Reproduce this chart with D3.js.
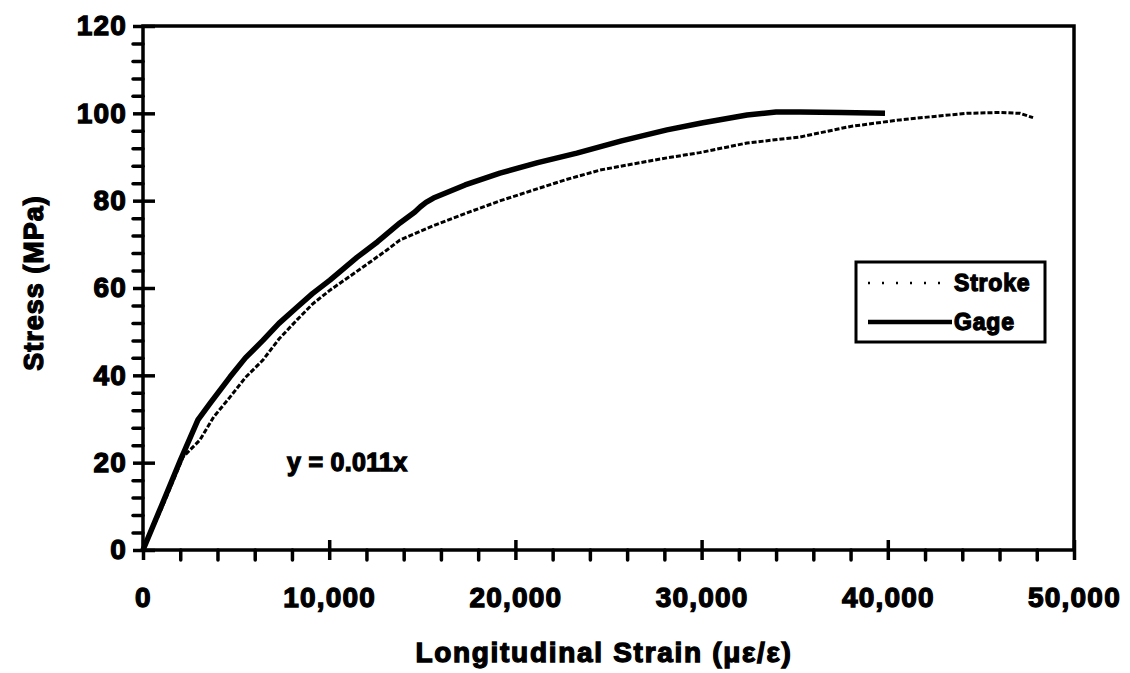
<!DOCTYPE html>
<html lang="en">
<head>
    <meta charset="UTF-8">
    <script src="https://d3js.org/d3.v7.min.js"></script>
    <title>Stress vs strain</title>
    <style>
        body { margin: 0; background: #fff; }
        text { font-family: "Liberation Sans", Arial, sans-serif; font-weight: bold; fill: #000; stroke: #000; stroke-width: 1.3px; }
    </style>
</head>
<body>
    <div id="app"></div>
    <script>
        const svg_width = 1130;
        const svg_height = 673;

        // (strain in µε, stress in MPa)
        var gageStrain = [0, 1000, 2000, 2950, 3600, 4670, 5500, 6440, 7300, 8270, 9100, 10040, 11490, 12600, 13800, 14600, 14900, 15200, 15600, 17300, 19170, 21200, 23300, 25700, 28140, 30000, 32440, 34000, 35300, 37500, 39850];
        var gageStress = [0, 10.2, 20.5, 29.8, 33.6, 39.6, 44, 48, 51.9, 55.6, 58.7, 61.8, 67, 70.6, 74.9, 77.4, 78.6, 79.6, 80.6, 83.6, 86.3, 88.7, 90.9, 93.7, 96.2, 97.8, 99.6, 100.3, 100.3, 100.2, 100];

        var strokeStrain = [0, 1000, 2150, 3060, 3800, 4670, 5500, 6440, 7300, 8270, 9100, 10040, 11820, 13100, 13800, 15600, 17400, 19200, 20950, 22700, 24540, 26300, 28140, 29900, 32440, 35300, 38000, 40650, 42500, 44250, 46000, 47100, 47800];
        var strokeStress = [0, 9.5, 21.3, 25.2, 30.5, 35, 39.5, 43.5, 48.3, 52.7, 56.3, 59.5, 64.8, 68.7, 71, 74.3, 77.2, 80, 82.4, 84.8, 87, 88.4, 89.8, 91, 93.2, 94.6, 97, 98.5, 99.3, 100, 100.2, 100, 99];

        var xMajor = [0, 10000, 20000, 30000, 40000, 50000];
        var yMajor = [0, 20, 40, 60, 80, 100, 120];
        var seriesNames = ['Stroke', 'Gage'];

        const plot_left = 143, plot_right = 1074, plot_top = 26, plot_bottom = 550;

        var svg = d3.select('#app')
            .append('svg')
            .attr('width', svg_width)
            .attr('height', svg_height)

        var x_scale = d3.scaleLinear().domain([0, 50000]).range([plot_left, plot_right])
        var y_scale = d3.scaleLinear().domain([0, 120]).range([plot_bottom, plot_top])

        // frame
        svg.append('rect')
            .attr('x', plot_left).attr('y', plot_top)
            .attr('width', plot_right - plot_left).attr('height', plot_bottom - plot_top)
            .attr('fill', 'none').attr('stroke', '#000').attr('stroke-width', 3.5)

        var xMinor = d3.range(0, 50001, 2000).filter(function (d) { return d % 10000 != 0 })
        var yMinor = d3.range(0, 121, 4).filter(function (d) { return d % 20 != 0 })

        // minor ticks
        svg.append('g')
            .attr('transform', 'translate(0,' + plot_bottom + ')')
            .call(d3.axisBottom(x_scale).tickValues(xMinor).tickFormat('').tickSize(10))
            .call(function (g) { g.select('.domain').remove() })
            .selectAll('line').attr('stroke-width', 3.5).attr('stroke-linecap', 'round')
        svg.append('g')
            .attr('transform', 'translate(' + plot_left + ',0)')
            .call(d3.axisLeft(y_scale).tickValues(yMinor).tickFormat('').tickSize(10))
            .call(function (g) { g.select('.domain').remove() })
            .selectAll('line').attr('stroke-width', 3.5).attr('stroke-linecap', 'round')

        // major ticks + labels
        var xAxis = svg.append('g')
            .attr('transform', 'translate(0,' + plot_bottom + ')')
            .call(d3.axisBottom(x_scale).tickValues(xMajor).tickFormat(d3.format(',')).tickSize(10).tickPadding(27))
        xAxis.select('.domain').remove()
        xAxis.selectAll('line').attr('y1', -10).attr('stroke-width', 3.5)
        xAxis.selectAll('text')
            .attr('font-size', 28).attr('font-family', null)
            .style('letter-spacing', '1.2px')

        var yAxis = svg.append('g')
            .attr('transform', 'translate(' + plot_left + ',0)')
            .call(d3.axisLeft(y_scale).tickValues(yMajor).tickSize(10).tickPadding(6))
        yAxis.select('.domain').remove()
        yAxis.selectAll('line').attr('x1', 12).attr('stroke-width', 3.5)
        yAxis.selectAll('text')
            .attr('font-size', 28).attr('font-family', null)
            .style('letter-spacing', '1.2px')

        // axis titles
        svg.append('text')
            .text('Longitudinal Strain (\u03bc\u03b5/\u03b5)')
            .attr('x', 604).attr('y', 662)
            .attr('font-size', 28)
            .style('letter-spacing', '1.7px')
            .style('text-anchor', 'middle')
        svg.append('text')
            .text('Stress (MPa)')
            .attr('transform', 'translate(43,283) rotate(-90)')
            .attr('font-size', 27)
            .style('letter-spacing', '1px')
            .style('text-anchor', 'middle')

        var line = d3.line()
            .x(function (d) { return x_scale(d[0]) })
            .y(function (d) { return y_scale(d[1]) })

        var strokeData = d3.zip(strokeStrain, strokeStress)
        var gageData = d3.zip(gageStrain, gageStress)

        svg.append('path')
            .datum(strokeData)
            .attr('d', line)
            .attr('fill', 'none')
            .attr('stroke', '#000')
            .attr('stroke-width', 3)
            .attr('stroke-dasharray', '5,2')

        svg.append('path')
            .datum(gageData)
            .attr('d', line)
            .attr('fill', 'none')
            .attr('stroke', '#000')
            .attr('stroke-width', 5.5)
            .attr('stroke-linejoin', 'round')

        // trend label
        svg.append('text')
            .text('y = 0.011x')
            .attr('x', 287).attr('y', 471)
            .attr('font-size', 25)
            .style('letter-spacing', '0.3px')

        // legend
        var legend = svg.append('g')
        legend.append('rect')
            .attr('x', 856).attr('y', 262)
            .attr('width', 189).attr('height', 80)
            .attr('fill', '#fff').attr('stroke', '#000').attr('stroke-width', 3)
        var rows = legend.selectAll('g.row')
            .data(seriesNames)
            .enter()
            .append('g')
            .attr('class', 'row')
            .attr('transform', function (d, i) { return 'translate(0,' + (283 + i * 39) + ')' })
        rows.append('line')
            .attr('x1', 868).attr('x2', 952)
            .attr('stroke', '#000')
            .attr('stroke-width', function (d) { return d == 'Gage' ? 4.5 : 2.5 })
            .attr('stroke-dasharray', function (d) { return d == 'Gage' ? null : '2,12' })
        rows.append('text')
            .text(function (d) { return d })
            .attr('x', 954).attr('y', 8)
            .attr('font-size', 23)
            .style('letter-spacing', '0.8px')
    </script>
</body>
</html>
